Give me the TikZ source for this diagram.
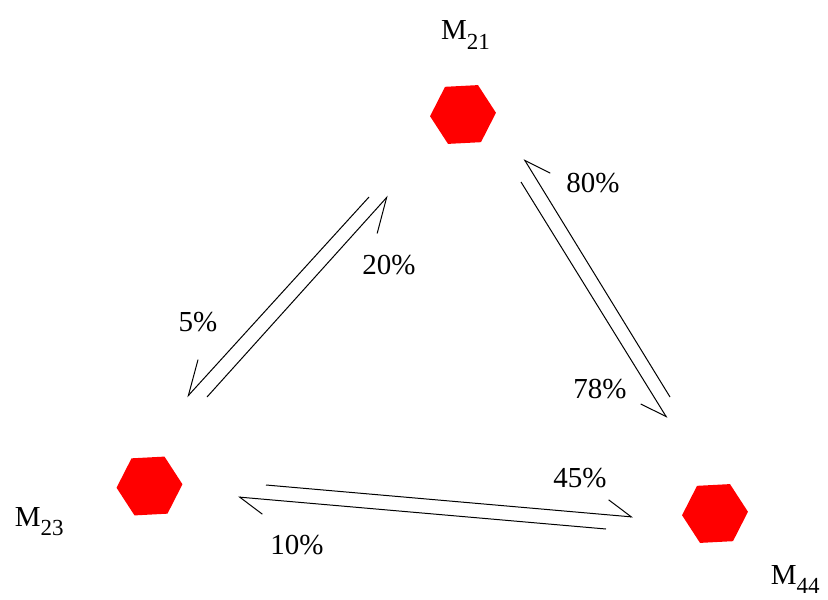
\documentclass[tikz,border=0pt]{standalone}
\usepackage{fontspec}
\setmainfont{Liberation Serif}
\usetikzlibrary{arrows.meta,positioning,shapes.geometric}
\definecolor{chex}{HTML}{FF0000}
\newcommand{\msub}[1]{M\raisebox{-0.32em}{\fontsize{11.5}{12}\selectfont #1}}
\tikzset{
  hexa/.style={regular polygon, regular polygon sides=6, fill=chex, draw=none,
               minimum size=33pt, inner sep=0pt, rotate=3},
  mlab/.style={inner sep=0pt, font=\fontsize{14.5}{17}\selectfont},
  plab/.style={inner sep=0pt, font=\fontsize{14.5}{17}\selectfont},
  flow/.style={-{Straight Barb[length=12pt, width=15pt, right]}, line width=0.5pt},
  flowb/.style={-{Straight Barb[length=12pt, width=15pt, left]}, line width=0.5pt},
  flowl/.style={-{Straight Barb[length=16.5pt, width=17pt, right]}, line width=0.5pt},
}
\begin{document}
\begin{tikzpicture}[x=0.5pt, y=-0.5pt]
  \useasboundingbox (0,0) rectangle (828,599);
  % states
  \node[hexa] (m21) at (463,114.5) {};
  \node[hexa] (m23) at (149.5,486) {};
  \node[hexa] (m44) at (715,513.5) {};
  \node[mlab, above=18pt of m21, xshift=2pt] (l21) {\msub{21}};
  \node[mlab, left=26pt of m23, yshift=-17pt] (l23) {\msub{23}};
  \node[mlab, right=11pt of m44, yshift=-34pt] (l44) {\msub{44}};
  % arrow ends
  \coordinate (a21) at (369,197);  \coordinate (a23) at (187,397);
  \coordinate (b23) at (207,397);  \coordinate (b21) at (388,196);
  \coordinate (c44) at (670,397);  \coordinate (c21) at (524,159);
  \coordinate (d21) at (521,182);  \coordinate (d44) at (667,418);
  \coordinate (e23) at (266,485);  \coordinate (e44) at (633,517);
  \coordinate (f44) at (606,529);  \coordinate (f23) at (238,497);
  % transitions
  \draw[flowl] (a21) -- (a23);
  \draw[flowl] (b23) -- (b21);
  \draw[flow] (c44) -- (c21);
  \draw[flow] (d21) -- (d44);
  \draw[flowb] (e23) -- (e44);
  \draw[flowb] (f44) -- (f23);
  \node[plab] (p5) at (198,322) {5\%};
  \node[plab] (p20) at (389,265) {20\%};
  \node[plab] (p80) at (593,183) {80\%};
  \node[plab] (p78) at (600,389) {78\%};
  \node[plab] (p45) at (580,478) {45\%};
  \node[plab] (p10) at (297,545) {10\%};
\end{tikzpicture}
\end{document}
